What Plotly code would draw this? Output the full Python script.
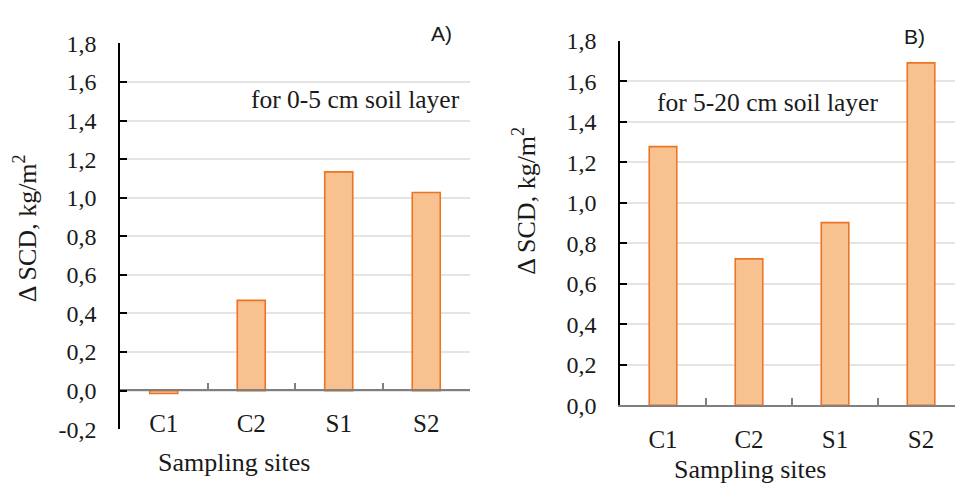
import plotly.graph_objects as go

sites = ["C1", "C2", "S1", "S2"]
scd_0_5 = [-0.015, 0.468, 1.134, 1.027]
scd_5_20 = [1.277, 0.723, 0.902, 1.691]
y_ticks = [-0.2, 0.0, 0.2, 0.4, 0.6, 0.8, 1.0, 1.2, 1.4, 1.6, 1.8]
y_ticktext = [f"{v:.1f}".replace(".", ",") for v in y_ticks]

W, H = 955, 501
FILL = "#F8C190"
EDGE = "#EC7424"
SERIF = "Liberation Serif"
GRID = "#E4E4E4"
INK = "#1a1a1a"

def px(x):
    return x / W

def py(y):
    return 1 - y / H

fig = go.Figure()
fig.add_trace(go.Bar(x=sites, y=scd_0_5, width=0.32, marker=dict(color=FILL, line=dict(color=EDGE, width=1.6)),
                     xaxis="x", yaxis="y", showlegend=False))
fig.add_trace(go.Bar(x=sites, y=scd_5_20, width=0.32, marker=dict(color=FILL, line=dict(color=EDGE, width=1.6)),
                     xaxis="x2", yaxis="y2", showlegend=False))

ytickfont = dict(family=SERIF, size=24, color=INK)
xtickfont = dict(family=SERIF, size=25, color=INK)

yax_common = dict(showline=True, linecolor="#000000", linewidth=1.5, ticks="inside", ticklen=7,
                  tickcolor="#000000", tickwidth=1.5, showgrid=True, gridcolor=GRID, gridwidth=1.5,
                  zeroline=False, tickvals=y_ticks, ticktext=y_ticktext, tickfont=ytickfont,
                  ticklabelstandoff=17, fixedrange=True)
xax_common = dict(showline=True, linecolor="#7f7f7f", linewidth=1.5, ticks="inside", ticklen=7,
                  tickcolor="#7f7f7f", tickwidth=1.5, tickson="boundaries", showgrid=False,
                  zeroline=False, tickfont=xtickfont, ticklabelstandoff=11, fixedrange=True)

fig.update_layout(
    width=W, height=H,
    margin=dict(l=0, r=0, t=0, b=0),
    paper_bgcolor="white", plot_bgcolor="white",
    bargap=0.6,
    xaxis=dict(domain=[px(120), px(470)], range=[-0.5, 3.5], anchor="free", position=py(398),
               **xax_common),
    yaxis=dict(domain=[py(439), py(32)], range=[-0.2, 1.8], anchor="x", **yax_common),
    xaxis2=dict(domain=[px(620), 1.0], range=[-0.5, 3.395], anchor="y2", **xax_common),
    yaxis2=dict(domain=[py(413.7), py(29.3)], range=[0, 1.8], anchor="x2", **yax_common),
)

title_font = dict(family=SERIF, size=26, color=INK)
note = dict(family=SERIF, size=25.5, color=INK)
label = dict(family="Liberation Sans", size=21, color=INK)
annotations = [
    dict(text="Δ SCD, kg/m<sup>2</sup>", x=px(25), y=py(227), textangle=-90, font=title_font),
    dict(text="Δ SCD, kg/m<sup>2</sup>", x=px(525), y=py(198), textangle=-90, font=title_font),
    dict(text="Sampling sites", x=px(234), y=py(474), font=title_font),
    dict(text="Sampling sites", x=px(750), y=py(482), font=title_font),
    dict(text="for 0-5 cm soil layer", x=px(355), y=py(91), font=note),
    dict(text="for 5-20 cm soil layer", x=px(767), y=py(94), font=note),
    dict(text="A)", x=px(441), y=py(22), font=label),
    dict(text="B)", x=px(914), y=py(25), font=label),
]
for a in annotations:
    fig.add_annotation(xref="paper", yref="paper", showarrow=False, xanchor="center", yanchor="middle", **a)

fig.write_html("out.html")
